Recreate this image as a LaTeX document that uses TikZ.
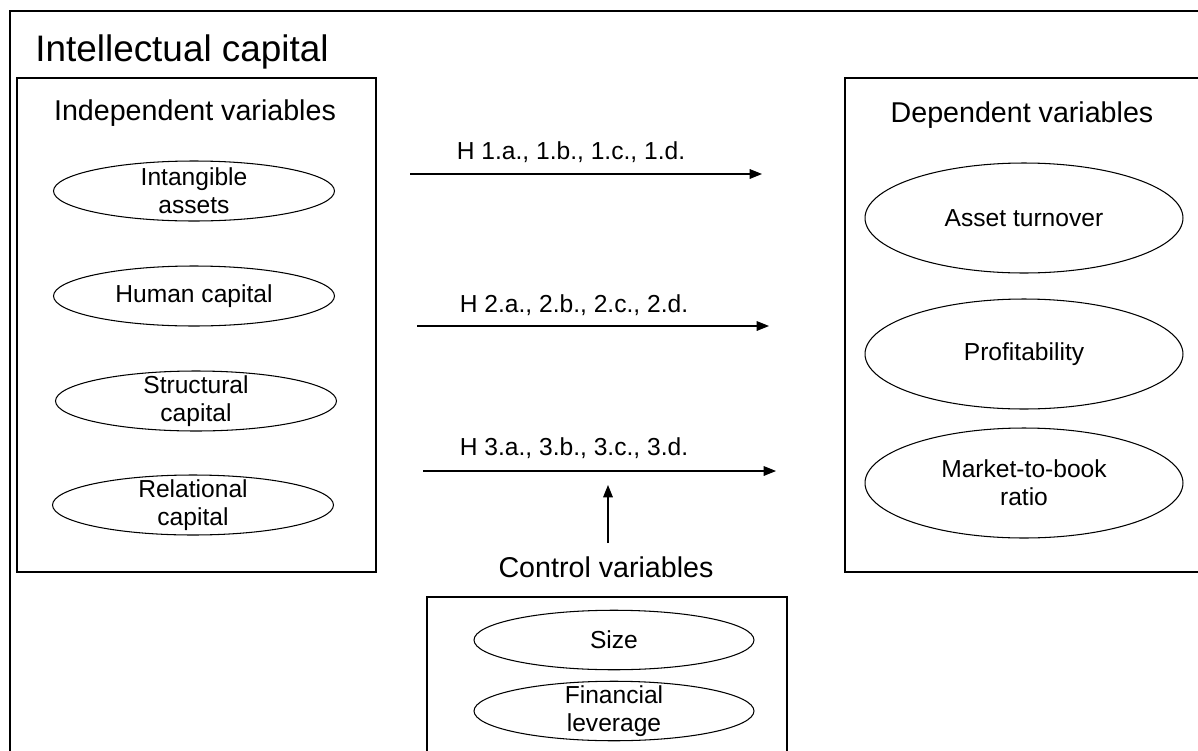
\documentclass[tikz,border=0pt]{standalone}
\usepackage{fontspec}
\setmainfont{Liberation Sans}
\usetikzlibrary{shapes.geometric,arrows.meta}
\tikzset{grp/.style={draw, line width=0.9pt},
         var/.style={draw, ellipse, line width=0.6pt, inner sep=0pt, minimum width=5.62cm, minimum height=1.2cm},
         dvar/.style={var, minimum width=6.36cm, minimum height=2.2cm},
         lbl/.style={align=center, inner sep=0pt, font=\fontsize{14}{16}\selectfont},
         head/.style={anchor=base, inner sep=0pt, font=\fontsize{16.3}{19}\selectfont},
         hyp/.style={anchor=base, inner sep=0pt, font=\fontsize{14}{16}\selectfont},
         link/.style={line width=0.6pt, -{Triangle[length=7pt, width=5.5pt]}}}

\begin{document}
\begin{tikzpicture}[x=0.02cm, y=-0.02cm]
    \clip (0,0) rectangle (1198,751);
    % frames
    \draw[line width=1.2pt] (10,11) rectangle (1260,800);
    \draw[grp] (17,78) rectangle (376,572);
    \draw[grp] (845,78) rectangle (1260,572);
    \draw[grp] (427,597) rectangle (787,800);
    \node[anchor=base west, inner sep=0pt, font=\fontsize{21}{25}\selectfont] (title) at (35,61) {Intellectual capital};
    \node[head] (indep) at (195,120) {Independent variables};
    \node[head] (dep) at (1022,122) {Dependent variables};
    \node[head] (ctrl) at (606,577) {Control variables};
    % independent variables
    \foreach \nm/\x/\y/\txt in {ia/194/191/{Intangible\\assets}, hc/194/296/{Human capital},
                               sc/196/401/{Structural\\capital}, rc/193/505/{Relational\\capital}}{
        \node[var] (\nm) at (\x,\y) {};
        \node[lbl] (\nm-txt) at (\nm) {\txt};
    }
    % dependent variables
    \foreach \nm/\y/\txt in {at/218/{Asset turnover}, pr/354/{Profitability}, mb/483/{Market-to-book\\ratio}}{
        \node[dvar] (\nm) at (1024,\y) {};
        \node[lbl] (\nm-txt) at (\nm) {\txt};
    }
    % control variables
    \foreach \nm/\y/\txt in {sz/640/{Size}, fl/711/{Financial\\leverage}}{
        \node[var, minimum width=5.6cm, minimum height=1.19cm] (\nm) at (614,\y) {};
        \node[lbl] (\nm-txt) at (\nm) {\txt};
    }
    % hypotheses
    \coordinate (h1a) at (410,174); \coordinate (h1b) at (762,174);
    \coordinate (h2a) at (417,326); \coordinate (h2b) at (769,326);
    \coordinate (h3a) at (423,471); \coordinate (h3b) at (776,471);
    \coordinate (cva) at (608,543); \coordinate (cvb) at (608,485);
    \draw[link] (h1a) -- (h1b);
    \draw[link] (h2a) -- (h2b);
    \draw[link] (h3a) -- (h3b);
    \draw[link] (cva) -- (cvb);
    \node[hyp] (hyp1) at (571,159) {H 1.a., 1.b., 1.c., 1.d.};
    \node[hyp] (hyp2) at (574,312) {H 2.a., 2.b., 2.c., 2.d.};
    \node[hyp] (hyp3) at (574,455) {H 3.a., 3.b., 3.c., 3.d.};
\end{tikzpicture}
\end{document}
